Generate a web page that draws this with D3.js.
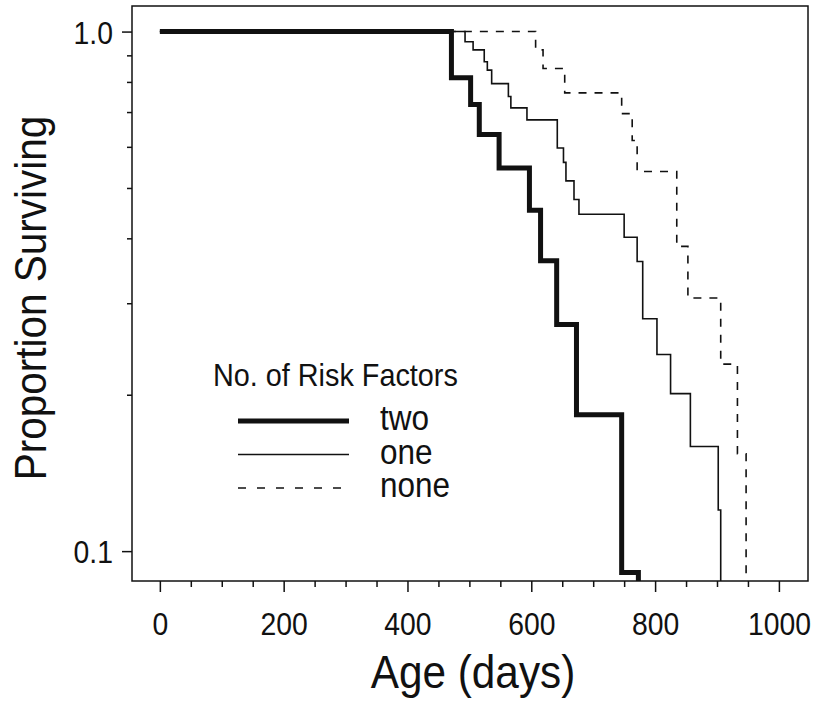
<!DOCTYPE html>
<html>
<head>
<meta charset="utf-8">
<script src="https://cdn.jsdelivr.net/npm/d3@7"></script>
<style>
    body { margin: 0; background: #fff; }
    svg { display: block; }
    text { font-family: "Liberation Sans", Arial, sans-serif; fill: #111; }
</style>
</head>
<body>
<svg id="chart"></svg>
<script>
// 各组生存曲线 (天数, 生存比例)
const twoDays = [0, 471, 502, 516, 548, 597, 615, 641, 673, 746, 773]
const twoSurv = [1.0, 0.815, 0.724, 0.634, 0.546, 0.453, 0.362, 0.273, 0.183, 0.091, 0]

const oneDays = [0, 493, 506, 524, 529, 536, 563, 567, 593, 642, 652, 656, 669, 677, 750, 771, 780, 803, 825, 857, 902, 906]
const oneSurv = [1.0, 0.956, 0.922, 0.875, 0.843, 0.794, 0.750, 0.713, 0.676, 0.597, 0.560, 0.516, 0.475, 0.445, 0.402, 0.361, 0.280, 0.239, 0.201, 0.159, 0.120, 0]

const noneDays = [0, 607, 619, 654, 746, 763, 771, 835, 853, 906, 933, 947]
const noneSurv = [1.0, 0.922, 0.849, 0.762, 0.695, 0.617, 0.538, 0.386, 0.307, 0.229, 0.154, 0]

const groupNames = ['two', 'one', 'none']

// 坐标轴刻度
const xMajorTicks = [0, 200, 400, 600, 800, 1000]
const xMinorTicks = [50, 100, 150, 250, 300, 350, 450, 500, 550, 650, 700, 750, 850, 900, 950]
const yMajorTicks = [0.1, 1.0]
const yMinorTicks = [0.2, 0.3, 0.4, 0.5, 0.6, 0.7, 0.8, 0.9]

const width = 817
const height = 718
const plot = { left: 132, right: 808, top: 6, bottom: 581 }
// 原图字体略窄, 横向压缩
const squeeze = 0.9

const svg = d3.select('#chart').attr('width', width).attr('height', height)

const x = d3.scaleLinear().domain([-45, 1047]).range([plot.left, plot.right])
const y = d3.scaleLog().domain([0.0876, 1.12]).range([plot.bottom, plot.top])

const styles = {
    two: { width: 5, dash: null, legendDash: null },
    one: { width: 1.6, dash: null, legendDash: null },
    none: { width: 1.6, dash: '8,8', legendDash: '8,11' },
}

const addText = (parent, str, tx, ty, size, anchor = 'start', rotate = 0) => {
    return parent.append('text')
        .text(str)
        .attr('transform', `translate(${tx}, ${ty}) rotate(${rotate}) scale(${squeeze}, 1)`)
        .attr('text-anchor', anchor)
        .attr('font-size', size)
}

// 裁剪区域
svg.append('clipPath').attr('id', 'clip')
    .append('rect')
    .attr('x', plot.left).attr('y', plot.top)
    .attr('width', plot.right - plot.left).attr('height', plot.bottom - plot.top)

const toPoints = (days, surv) => days.map((d, i) => ({ day: d, p: surv[i] }))

const series = [
    { name: 'none', points: toPoints(noneDays, noneSurv) },
    { name: 'one', points: toPoints(oneDays, oneSurv) },
    { name: 'two', points: toPoints(twoDays, twoSurv) },
]

const line = d3.line()
    .curve(d3.curveStepAfter)
    .x(v => x(v.day))
    .y(v => y(Math.max(v.p, y.domain()[0])))

svg.append('g').attr('clip-path', 'url(#clip)')
    .selectAll('path').data(series).enter()
    .append('path')
    .attr('d', v => line(v.points))
    .attr('fill', 'none')
    .attr('stroke', '#111')
    .attr('stroke-width', v => styles[v.name].width)
    .attr('stroke-dasharray', v => styles[v.name].dash)

// x 轴
const xAxis = svg.append('g').attr('transform', `translate(0, ${plot.bottom})`)
    .call(d3.axisBottom(x).tickValues(xMajorTicks).tickSize(11).tickSizeOuter(0).tickFormat(d3.format('d')))
xAxis.select('.domain').remove()
xAxis.selectAll('text')
    .attr('y', 54).attr('dy', 0)
    .attr('transform', `scale(${squeeze}, 1)`)
    .attr('font-size', 31.5)
    .style('font-family', '"Liberation Sans", Arial, sans-serif').attr('fill', '#111')

const xMinor = svg.append('g').attr('transform', `translate(0, ${plot.bottom})`)
    .call(d3.axisBottom(x).tickValues(xMinorTicks).tickSize(6).tickSizeOuter(0).tickFormat(''))
xMinor.select('.domain').remove()

// y 轴
const yAxis = svg.append('g').attr('transform', `translate(${plot.left}, 0)`)
    .call(d3.axisLeft(y).tickValues(yMajorTicks).tickSize(10).tickSizeOuter(0).tickFormat(d3.format('.1f')))
yAxis.select('.domain').remove()
yAxis.selectAll('text')
    .attr('x', -19 / squeeze).attr('dy', '0.37em')
    .attr('transform', `scale(${squeeze}, 1)`)
    .attr('font-size', 31.5)
    .style('font-family', '"Liberation Sans", Arial, sans-serif').attr('fill', '#111')

const yMinor = svg.append('g').attr('transform', `translate(${plot.left}, 0)`)
    .call(d3.axisLeft(y).tickValues(yMinorTicks).tickSize(5).tickSizeOuter(0).tickFormat(''))
yMinor.select('.domain').remove()

svg.selectAll('.tick line').attr('stroke', '#111').attr('stroke-width', 1.5)

// 边框
svg.append('rect')
    .attr('x', plot.left).attr('y', plot.top)
    .attr('width', plot.right - plot.left).attr('height', plot.bottom - plot.top)
    .attr('fill', 'none').attr('stroke', '#111').attr('stroke-width', 1.5)

// 轴标题
addText(svg, 'Age (days)', (plot.left + plot.right) / 2 + 3, 688, 47, 'middle')
addText(svg, 'Proportion Surviving', 46, 298, 45, 'middle', -90)

// 图例
const legend = svg.append('g')
addText(legend, 'No. of Risk Factors', 213, 386, 32)

const legendRows = legend.selectAll('g.row').data(groupNames).enter()
    .append('g').attr('class', 'row')
    .attr('transform', (v, i) => `translate(0, ${421 + i * 33.5})`)

legendRows.append('line')
    .attr('x1', 238).attr('x2', 349)
    .attr('stroke', '#111')
    .attr('stroke-width', v => styles[v].width)
    .attr('stroke-dasharray', v => styles[v].legendDash)

legendRows.each(function (v) {
    addText(d3.select(this), v, 380, 9, 35)
})
</script>
</body>
</html>
